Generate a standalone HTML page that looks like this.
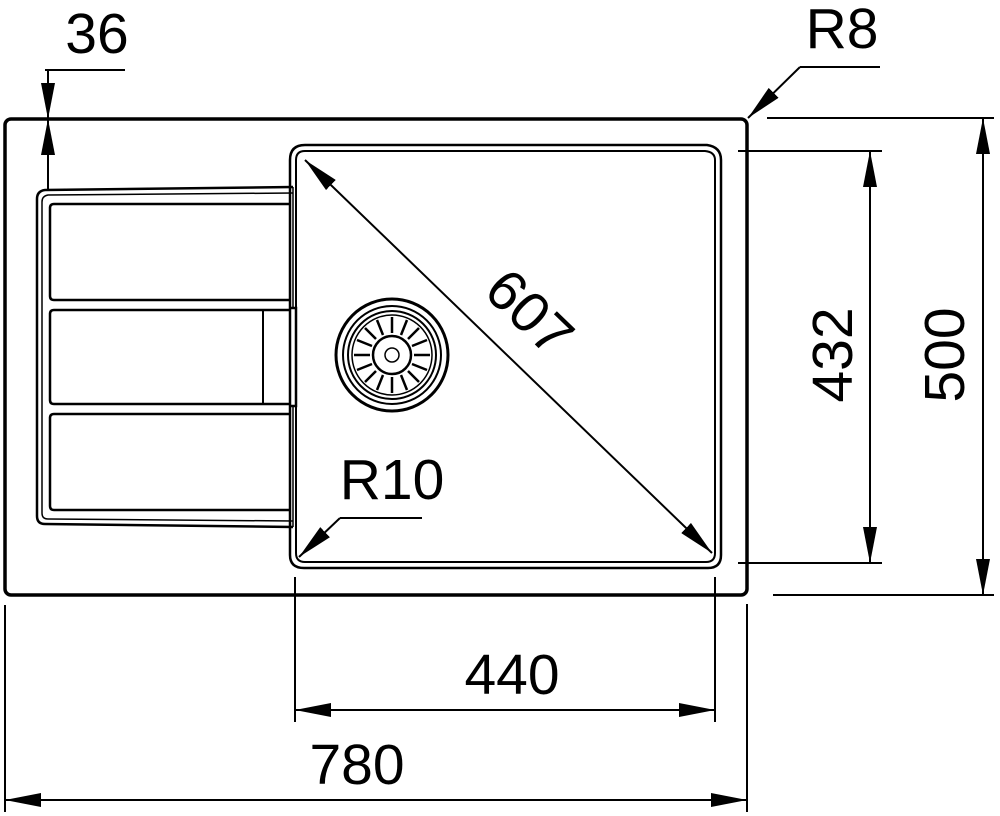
<!DOCTYPE html>
<html><head><meta charset="utf-8"><style>
html,body{margin:0;padding:0;background:#fff;}
svg{display:block;}
text{font-family:"Liberation Sans",Arial,sans-serif;fill:#000;}
</style></head><body>
<svg width="1000" height="816" viewBox="0 0 1000 816" xmlns="http://www.w3.org/2000/svg">
<defs>
<marker id="a" viewBox="0 0 36 14" refX="36" refY="7" markerWidth="36" markerHeight="14" markerUnits="userSpaceOnUse" orient="auto-start-reverse">
<path d="M0,0 L36,7 L0,14 Z" fill="#000"/>
</marker>
</defs>
<g fill="none" stroke="#000">
<rect x="5" y="119" width="742" height="476" rx="6" stroke-width="3.5"/>
<path d="M290,160 Q290,145 305,145 L707,145 Q721,147 721,160 L721,555 Q721,568 708,568 L304,568 Q290,568 290,555 Z" stroke-width="2.5"/>
<path d="M296,160 Q296,151 305,151 L705,151 Q715,152 715,160 L715,553 Q715,562 706,562 L305,562 Q296,562 296,553 Z" stroke-width="2"/>
<path d="M293,187 L45,190 Q37,191 37,199 L37,516 Q37,524 45,524 L293,527" stroke-width="2.5"/>
<path d="M293,193 L48,195 Q42,196 42,202 L42,513 Q42,519 48,519 L293,521" stroke-width="1.5"/>
<path d="M291,204 L54,204 Q50,204 50,208 L50,296 Q50,300 54,300 L291,300" stroke-width="2.5"/>
<path d="M291,310 L54,310 Q50,310 50,314 L50,400 Q50,404 54,404 L291,404" stroke-width="2.5"/>
<path d="M291,414 L54,414 Q50,414 50,418 L50,506 Q50,510 54,510 L291,510" stroke-width="2.5"/>
<line x1="263" y1="310" x2="263" y2="404" stroke-width="2"/>
<path d="M291,308 L296,308 L296,406 L291,406" stroke-width="2.5"/>
<line x1="293" y1="187" x2="293" y2="308" stroke-width="1.5"/>
<line x1="293" y1="406" x2="293" y2="527" stroke-width="1.5"/>
<circle cx="392" cy="355" r="56" stroke-width="3"/>
<circle cx="392" cy="355" r="49" stroke-width="2"/>
<circle cx="392" cy="355" r="44" stroke-width="2"/>
<circle cx="392" cy="355" r="40" stroke-width="1.5"/>
<circle cx="392" cy="355" r="19" stroke-width="2.5"/>
<circle cx="392" cy="355" r="7" stroke-width="1.5"/>
<g stroke-width="2.5">
<path d="M392,317 v16 M392,377 v16 M354,355 h16 M414,355 h16 M365,328 l11,11 M408,371 l11,11 M419,328 l-11,11 M376,371 l-11,11 M377,320 l6,15 M401,375 l6,15 M407,320 l-6,15 M383,375 l-6,15 M357,340 l15,6 M412,364 l15,6 M427,340 l-15,6 M372,364 l-15,6"/>
</g>
<g stroke-width="2">
<line x1="45" y1="70" x2="125" y2="70"/>
<line x1="48" y1="70" x2="48" y2="119" marker-end="url(#a)"/>
<line x1="48" y1="119" x2="48" y2="189" marker-start="url(#a)"/>
<line x1="800" y1="67" x2="880" y2="67"/>
<line x1="800" y1="67" x2="748" y2="118" marker-end="url(#a)"/>
<line x1="340" y1="518" x2="422" y2="518"/>
<line x1="340" y1="518" x2="299" y2="557" marker-end="url(#a)"/>
<line x1="305" y1="160" x2="712" y2="553" marker-start="url(#a)" marker-end="url(#a)"/>
<line x1="738" y1="151" x2="882" y2="151"/>
<line x1="738" y1="563" x2="882" y2="563"/>
<line x1="870" y1="151" x2="870" y2="563" marker-start="url(#a)" marker-end="url(#a)"/>
<line x1="767" y1="118" x2="994" y2="118"/>
<line x1="773" y1="595" x2="994" y2="595"/>
<line x1="983" y1="118" x2="983" y2="595" marker-start="url(#a)" marker-end="url(#a)"/>
<line x1="295" y1="577" x2="295" y2="722"/>
<line x1="715" y1="577" x2="715" y2="722"/>
<line x1="295" y1="710" x2="715" y2="710" marker-start="url(#a)" marker-end="url(#a)"/>
<line x1="5" y1="605" x2="5" y2="812"/>
<line x1="747" y1="604" x2="747" y2="812"/>
<line x1="5" y1="800" x2="747" y2="800" marker-start="url(#a)" marker-end="url(#a)"/>
</g>
</g>
<g font-size="57">
<text x="97" y="53" text-anchor="middle">36</text>
<text x="842" y="48" text-anchor="middle">R8</text>
<text x="392" y="499" text-anchor="middle">R10</text>
<text x="512" y="694" text-anchor="middle">440</text>
<text x="357" y="784" text-anchor="middle">780</text>
<text transform="translate(530,312) rotate(44)" text-anchor="middle" dy="20">607</text>
<text transform="translate(832,355) rotate(-90)" text-anchor="middle" dy="20">432</text>
<text transform="translate(944,355) rotate(-90)" text-anchor="middle" dy="20">500</text>
</g>
</svg>
</body></html>
